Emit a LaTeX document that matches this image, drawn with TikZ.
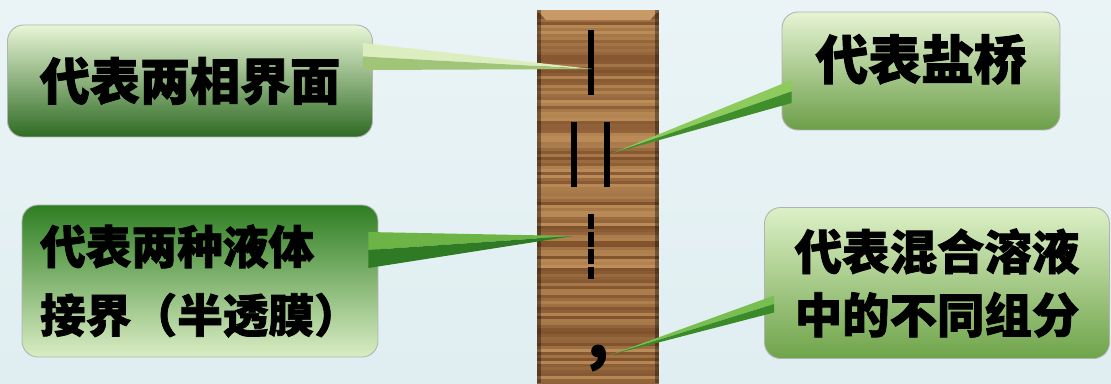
\documentclass[tikz,border=0pt]{standalone}
\usepackage{fontspec}
\newfontfamily\cjk{Noto Sans CJK SC}[BoldFeatures={FakeBold=1.6}]
\usetikzlibrary{positioning}

\definecolor{bgtop}{HTML}{EAF4F6}
\definecolor{bgbot}{HTML}{E0EEF1}
\definecolor{woodlight}{HTML}{C2935C}
\definecolor{wooddark}{HTML}{6E4020}
\definecolor{woodtop}{HTML}{C99A68}
%% box shades
\definecolor{gA1}{HTML}{E8F6D6}\definecolor{gA2}{HTML}{9EC66F}\definecolor{gA3}{HTML}{2F6B24}
\definecolor{gB1}{HTML}{E6F4D4}\definecolor{gB2}{HTML}{B2D38C}\definecolor{gB3}{HTML}{6C9E48}
\definecolor{gC1}{HTML}{2E7E22}\definecolor{gC2}{HTML}{8DBF65}\definecolor{gC3}{HTML}{DAEDC4}
\definecolor{gD1}{HTML}{DDF0C7}\definecolor{gD2}{HTML}{A9D081}\definecolor{gD3}{HTML}{6FA44A}
%% pointer shades
\definecolor{pA1}{HTML}{DCEDC0}\definecolor{pA2}{HTML}{A0C478}
\definecolor{pB1}{HTML}{8CCB5C}\definecolor{pB2}{HTML}{3F8D2B}
\definecolor{pC1}{HTML}{6DB446}\definecolor{pC2}{HTML}{2F7A25}
\definecolor{pD1}{HTML}{78BE50}\definecolor{pD2}{HTML}{3A8A2A}

\begin{document}
\begin{tikzpicture}[
        x=0.02cm, y=-0.02cm,
        callout/.style={rounded corners=0.32cm, draw=black!30, line width=0.5pt,
            align=left, inner sep=0pt, font=\cjk\bfseries},
        barmark/.style={line width=0.125cm, black}
    ]
    \useasboundingbox (0,0) rectangle (1111,383);

    %% ---- Background ----
    \fill[top color=bgtop, bottom color=bgbot] (0,0) rectangle (1111,383);

    %% ---- Wooden bar ----
    \begin{scope}
        \clip (537,10) rectangle (659,383);
        \pgfmathsetseed{7}
        \foreach \k in {0,...,125}{
            \pgfmathsetmacro\ya{10+3*\k}
            \pgfmathsetmacro\yb{\ya+3}
            \pgfmathsetmacro\mix{int(20+75*rnd)}
            \fill[woodlight!\mix!wooddark] (537,\ya) rectangle (659,\yb);
        }
        \fill[woodtop] (537,10) -- (659,10) -- (650,20) -- (546,20) -- cycle;
        \fill[black, opacity=0.35] (537,10) rectangle (541,383);
        \fill[black, opacity=0.35] (655,10) rectangle (659,383);
    \end{scope}

    %% ---- Marks on the bar ----
    \draw[barmark] (591,30) -- (591,95);
    \draw[barmark] (574,122) -- (574,187);
    \draw[barmark] (607,122) -- (607,187);
    \draw[barmark, dash pattern=on 0.3cm off 0.05cm] (591,214) -- (591,279);
    \node[font=\cjk\bfseries\fontsize{34pt}{34pt}\selectfont, inner sep=0pt] (comma) at (598,358) {,};

    \coordinate (phase) at (592,69);
    \coordinate (bridge) at (613,153);
    \coordinate (membrane) at (573,236);
    \coordinate (parts) at (610,355);

    %% ---- Callout boxes ----
    \node[callout, top color=gA1, middle color=gA2, bottom color=gA3,
          minimum width=7.3cm, minimum height=2.24cm,
          font=\cjk\bfseries\fontsize{28.5pt}{34pt}\selectfont] (b1) at (190,81) {代表两相界面};

    \node[callout, top color=gB1, middle color=gB2, bottom color=gB3,
          minimum width=5.56cm, minimum height=2.36cm, text depth=0.57cm,
          font=\cjk\bfseries\fontsize{30pt}{34pt}\selectfont] (b2) at (921,71) {代表盐桥};

    \node[callout, top color=gC1, middle color=gC2, bottom color=gC3,
          minimum width=7.12cm, minimum height=3.04cm,
          font=\cjk\bfseries\fontsize{26pt}{39pt}\selectfont] (b3) at (200,281)
          {代表两种液体\\接界（半透膜）};

    \node[callout, top color=gD1, middle color=gD2, bottom color=gD3,
          minimum width=6.9cm, minimum height=3.02cm,
          font=\cjk\bfseries\fontsize{27pt}{36pt}\selectfont] (b4) at (937,283)
          {代表混合溶液\\中的不同组分};

    %% ---- Pointers ----
    \fill[pA1] ([xshift=-0.2cm,yshift=0.76cm]b1.east) -- ([xshift=-0.2cm,yshift=0.49cm]b1.east) -- (phase) -- cycle;
    \fill[pA2] ([xshift=-0.2cm,yshift=0.49cm]b1.east) -- ([xshift=-0.2cm,yshift=0.22cm]b1.east) -- (phase) -- cycle;

    \fill[pB1] ([xshift=0.2cm,yshift=-0.18cm]b2.west) -- ([xshift=0.2cm,yshift=-0.41cm]b2.west) -- (bridge) -- cycle;
    \fill[pB2] ([xshift=0.2cm,yshift=-0.41cm]b2.west) -- ([xshift=0.2cm,yshift=-0.64cm]b2.west) -- (bridge) -- cycle;

    \fill[pC1] ([xshift=-0.2cm,yshift=0.98cm]b3.east) -- ([xshift=-0.2cm,yshift=0.62cm]b3.east) -- (membrane) -- cycle;
    \fill[pC2] ([xshift=-0.2cm,yshift=0.62cm]b3.east) -- ([xshift=-0.2cm,yshift=0.26cm]b3.east) -- (membrane) -- cycle;

    \fill[pD1] ([xshift=0.2cm,yshift=-0.25cm]b4.west) -- ([xshift=0.2cm,yshift=-0.42cm]b4.west) -- (parts) -- cycle;
    \fill[pD2] ([xshift=0.2cm,yshift=-0.42cm]b4.west) -- ([xshift=0.2cm,yshift=-0.59cm]b4.west) -- (parts) -- cycle;

\end{tikzpicture}
\end{document}
